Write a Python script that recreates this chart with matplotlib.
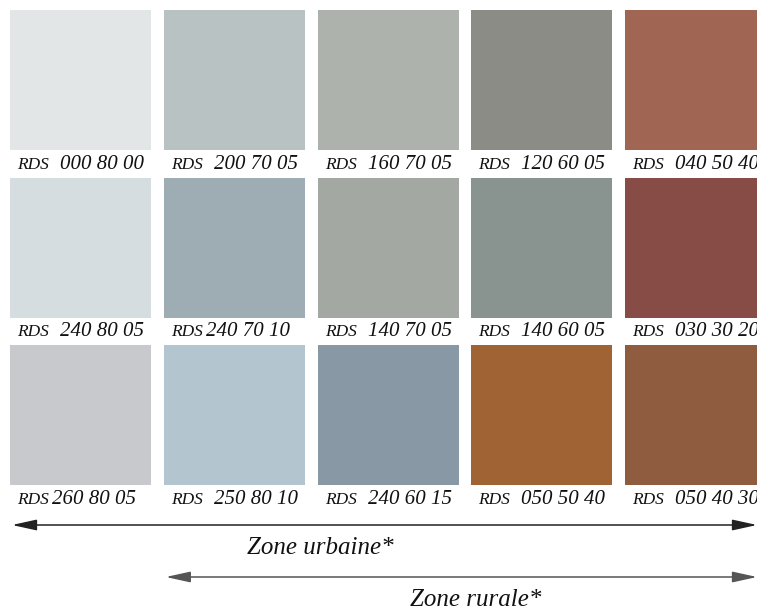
import matplotlib
matplotlib.use('Agg')
import matplotlib.pyplot as plt
from matplotlib.patches import Rectangle

# swatch grid, row by row
labels = [
    ['RDS 000 80 00', 'RDS 200 70 05', 'RDS 160 70 05', 'RDS 120 60 05', 'RDS 040 50 40'],
    ['RDS 240 80 05', 'RDS240 70 10', 'RDS 140 70 05', 'RDS 140 60 05', 'RDS 030 30 20'],
    ['RDS260 80 05', 'RDS 250 80 10', 'RDS 240 60 15', 'RDS 050 50 40', 'RDS 050 40 30'],
]
colors = [
    ['#e3e6e6', '#b8c2c3', '#adb3ac', '#8b8c86', '#a16553'],
    ['#d6dde0', '#9eacb4', '#a4a8a2', '#89938f', '#884c46'],
    ['#c7c9cd', '#b3c5cf', '#8899a5', '#a06434', '#8f5c3f'],
]
zones = ['Zone urbaine*', 'Zone rurale*']
zone_start_col = [0, 1]

W, H = 757, 608
col_left = 10
col_pitch = 153.8
row_top = 10
row_pitch = 167.5
sw = 141
sh = 140

serif = ['Liberation Serif', 'DejaVu Serif']

fig = plt.figure(figsize=(W / 100, H / 100), dpi=100)
ax = fig.add_axes([0, 0, 1, 1])
ax.set_xlim(0, W)
ax.set_ylim(H, 0)
ax.axis('off')

for r, row in enumerate(labels):
    for c, lab in enumerate(row):
        x0 = col_left + c * col_pitch
        y0 = row_top + r * row_pitch
        ax.add_patch(Rectangle((x0, y0), sw, sh, color=colors[r][c], lw=0))
        code = lab[3:].strip()
        gap = 10 if lab[3] == ' ' else 2
        ty = y0 + sh + 19
        tx = x0 + 7
        ax.text(tx, ty, 'RDS', fontsize=12.5, style='italic', family=serif,
                ha='left', va='baseline', color='#111111')
        ax.text(tx + 33 + gap, ty, code, fontsize=15, style='italic', family=serif,
                ha='left', va='baseline', color='#111111')

# zone arrows
arrow_y = [525, 577]
arrow_col = ['#222222', '#555555']
text_y = [548, 600]
text_x = [320, 476]
for i, z in enumerate(zones):
    xs = col_left + zone_start_col[i] * col_pitch + 2
    ax.annotate('', xy=(W, arrow_y[i]), xytext=(xs, arrow_y[i]),
                annotation_clip=False,
                arrowprops=dict(arrowstyle='<|-|>,head_length=1.0,head_width=0.22',
                                lw=1.1, color=arrow_col[i], shrinkA=0, shrinkB=0,
                                mutation_scale=15))
    ax.text(text_x[i], text_y[i], z, fontsize=18, style='italic', family=serif,
            ha='center', va='center', color='#111111')

fig.savefig('out.png', dpi=100)
